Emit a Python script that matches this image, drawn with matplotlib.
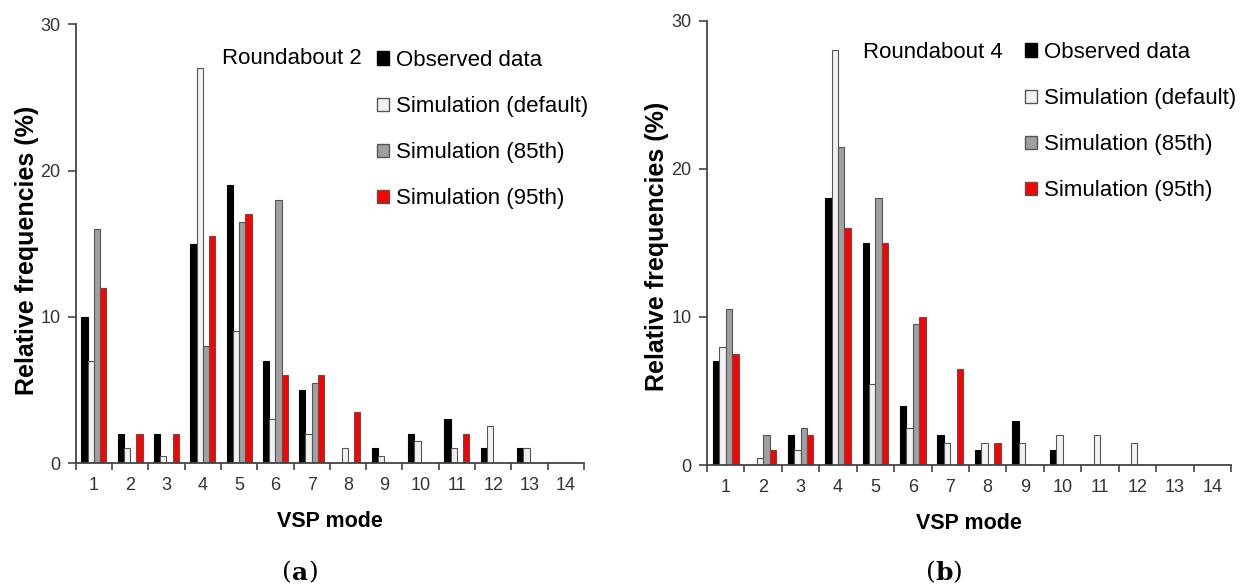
import numpy as np
import matplotlib
matplotlib.use("Agg")
import matplotlib.pyplot as plt
from matplotlib.patches import Patch

plt.rcParams['font.family'] = ['Liberation Sans', 'DejaVu Sans']

modes = list(range(1, 15))
series_names = ["Observed data", "Simulation (default)", "Simulation (85th)", "Simulation (95th)"]

# Roundabout 2
r2_observed = [10, 2, 2, 15, 19, 7, 5, 0, 1, 2, 3, 1, 1, 0]
r2_default = [7, 1, 0.5, 27, 9, 3, 2, 1, 0.5, 1.5, 1, 2.5, 1, 0]
r2_p85 = [16, 0, 0, 8, 16.5, 18, 5.5, 0, 0, 0, 0, 0, 0, 0]
r2_p95 = [12, 2, 2, 15.5, 17, 6, 6, 3.5, 0, 0, 2, 0, 0, 0]

# Roundabout 4
r4_observed = [7, 0, 2, 18, 15, 4, 2, 1, 3, 1, 0, 0, 0, 0]
r4_default = [8, 0.5, 1, 28, 5.5, 2.5, 1.5, 1.5, 1.5, 2, 2, 1.5, 0, 0]
r4_p85 = [10.5, 2, 2.5, 21.5, 18, 9.5, 0, 0, 0, 0, 0, 0, 0, 0]
r4_p95 = [7.5, 1, 2, 16, 15, 10, 6.5, 1.5, 0, 0, 0, 0, 0, 0]

fills = ["#000000", "#f2f2f2", "#a0a0a0", "#ff0000"]
edges = ["#000000", "#555555", "#555555", "#555555"]

W, H = 1243, 584
fig = plt.figure(figsize=(W / 100, H / 100), dpi=100)
renderer = fig.canvas.get_renderer()

axis_col = "#444444"
tick_col = "#333333"


def caption(letter, cx, cy):
    """Serif '(x)' caption with a bold letter, centred at (cx, cy) in pixels."""
    parts = [("(", "normal"), (letter, "bold"), (")", "normal")]
    texts = []
    for s, wt in parts:
        texts.append(fig.text(0, 0, s, fontsize=18, fontweight=wt,
                              family='DejaVu Serif', ha='left', va='center'))
    widths = [t.get_window_extent(renderer).width for t in texts]
    x = cx - sum(widths) / 2
    for t, w in zip(texts, widths):
        t.set_position((x / W, 1 - cy / H))
        x += w


def panel(rect_px, data, title, title_xy, legend_xy, ylabel_xy):
    x0, y_top, x1, y_bot = rect_px
    ax = fig.add_axes([x0 / W, (H - y_bot) / H, (x1 - x0) / W, (y_bot - y_top) / H])
    x = np.array(modes, dtype=float)
    bw = 0.172
    offsets = (np.arange(4) - 1.5) * bw
    for vals, off, fc, ec, name in zip(data, offsets, fills, edges, series_names):
        ax.bar(x + off, vals, width=bw, color=fc, edgecolor=ec, linewidth=0.8, label=name)
    ax.set_xlim(0.5, 14.5)
    ax.set_ylim(0, 30)
    ax.set_yticks([0, 10, 20, 30])
    ax.set_xticks(np.arange(0.5, 15, 1.0))
    ax.set_xticklabels([])
    ax.set_xticks(x, minor=True)
    ax.set_xticklabels([str(m) for m in modes], minor=True)
    ax.tick_params(axis='x', which='minor', length=0, pad=10, labelsize=13, labelcolor=tick_col)
    ax.tick_params(axis='x', which='major', length=5, width=1.2, color=axis_col, direction='out')
    ax.tick_params(axis='y', length=6, width=1.2, color=axis_col, pad=5, labelsize=13, labelcolor=tick_col)
    for s in ["top", "right"]:
        ax.spines[s].set_visible(False)
    for s in ["left", "bottom"]:
        ax.spines[s].set_color(axis_col)
        ax.spines[s].set_linewidth(1.3)
    ax.set_xlabel("VSP mode", fontsize=15.5, fontweight='bold', labelpad=12)
    fig.text(ylabel_xy[0] / W, 1 - ylabel_xy[1] / H, "Relative frequencies (%)",
             rotation=90, ha='center', va='center', fontsize=18, fontweight='bold')
    fig.text(title_xy[0] / W, 1 - title_xy[1] / H, title, ha='left', va='center', fontsize=16)
    handles = [Patch(facecolor=fc, edgecolor=ec, linewidth=1.0) for fc, ec in zip(fills, edges)]
    fig.legend(handles, series_names, loc='upper left',
               bbox_to_anchor=(legend_xy[0] / W, 1 - legend_xy[1] / H),
               frameon=False, fontsize=16, handlelength=0.55, handleheight=0.55,
               handletextpad=0.3, labelspacing=1.13, borderpad=0, borderaxespad=0)
    return ax


ax_a = panel((75.7, 24.3, 584, 463), [r2_observed, r2_default, r2_p85, r2_p95],
             "Roundabout 2", (222, 58), (377, 50), (27, 250))
ax_b = panel((707, 20.7, 1231, 465), [r4_observed, r4_default, r4_p85, r4_p95],
             "Roundabout 4", (863, 52), (1025, 42), (657, 246))

caption("a", 300, 573)
caption("b", 944, 573)

fig.savefig("out.png", dpi=100, facecolor="white")
